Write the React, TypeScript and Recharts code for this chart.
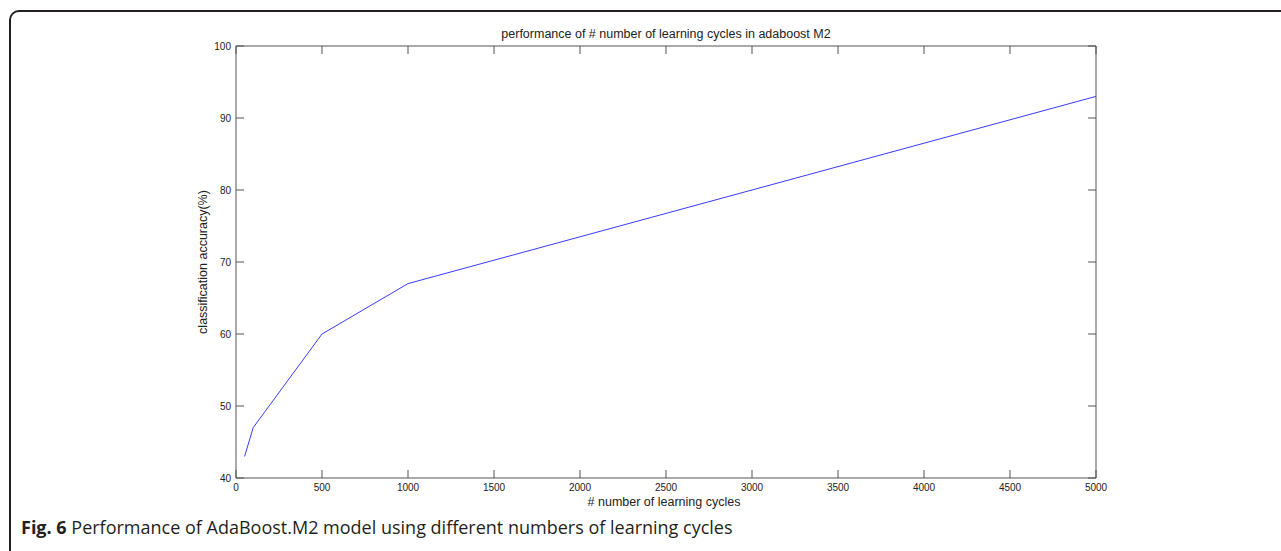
import React from 'react';
import { LineChart, Line, XAxis, YAxis } from 'recharts';

// learning cycles vs accuracy
const cycles = [50, 100, 500, 1000, 5000];
const accuracy = [43, 47, 60, 67, 93];
const xTicks = [0, 500, 1000, 1500, 2000, 2500, 3000, 3500, 4000, 4500, 5000];
const yTicks = [40, 50, 60, 70, 80, 90, 100];

const W = 1281;
const H = 551;
const axisColor = '#555555';
const matFont = '"Liberation Sans", Arial, sans-serif';

const data = cycles.map((c, i) => ({ x: c, acc: accuracy[i] }));

function BottomTick(props: any) {
    const { x, y, payload } = props;
    return (
        <g>
            <line x1={x} x2={x} y1={y} y2={y - 8} stroke={axisColor} />
            <text x={x} y={y + 13} textAnchor="middle" fontSize={10} fontFamily={matFont} fill="#222">
                {payload.value}
            </text>
        </g>
    );
}

function TopTick(props: any) {
    const { x, y } = props;
    return <line x1={x} x2={x} y1={y} y2={y + 8} stroke={axisColor} />;
}

function LeftTick(props: any) {
    const { x, y, payload } = props;
    return (
        <g>
            <line x1={x} x2={x + 8} y1={y} y2={y} stroke={axisColor} />
            <text x={x - 5} y={y + 4} textAnchor="end" fontSize={10} fontFamily={matFont} fill="#222">
                {payload.value}
            </text>
        </g>
    );
}

function RightTick(props: any) {
    const { x, y } = props;
    return <line x1={x} x2={x - 8} y1={y} y2={y} stroke={axisColor} />;
}

const labelStyle: React.CSSProperties = {
    position: 'absolute',
    whiteSpace: 'nowrap',
    fontFamily: matFont,
    fontSize: 12.5,
    color: '#222',
    lineHeight: '13px',
};

export default function App() {
    return (
        <div style={{ position: 'absolute', left: 0, top: 0, width: W, height: H, overflow: 'hidden', background: '#fff' }}>
            <div
                style={{
                    position: 'absolute',
                    left: 9,
                    top: 10,
                    width: W - 9,
                    height: H - 10,
                    boxSizing: 'border-box',
                    borderTop: '2px solid #231f20',
                    borderLeft: '2px solid #231f20',
                    borderTopLeftRadius: 10,
                }}
            />
            <div style={{ position: 'absolute', left: 0, top: 0 }}>
                <LineChart width={W} height={H} data={data} margin={{ top: 45, right: 184, bottom: 43, left: 176 }}>
                    <XAxis
                        dataKey="x"
                        type="number"
                        domain={[0, 5000]}
                        ticks={xTicks}
                        height={30}
                        tickSize={0}
                        tickMargin={0}
                        tick={<BottomTick />}
                        tickLine={false}
                        stroke={axisColor}
                    />
                    <XAxis
                        xAxisId="top"
                        orientation="top"
                        dataKey="x"
                        type="number"
                        domain={[0, 5000]}
                        ticks={xTicks}
                        height={1}
                        tickSize={0}
                        tickMargin={0}
                        tick={<TopTick />}
                        tickLine={false}
                        stroke={axisColor}
                    />
                    <YAxis
                        type="number"
                        domain={[40, 100]}
                        ticks={yTicks}
                        width={60}
                        tickSize={0}
                        tickMargin={0}
                        tick={<LeftTick />}
                        tickLine={false}
                        stroke={axisColor}
                    />
                    <YAxis
                        yAxisId="right"
                        orientation="right"
                        type="number"
                        domain={[40, 100]}
                        ticks={yTicks}
                        width={1}
                        tickSize={0}
                        tickMargin={0}
                        tick={<RightTick />}
                        tickLine={false}
                        stroke={axisColor}
                    />
                    {/* invisible copy so the box axes (top/right) get a scale */}
                    <Line
                        xAxisId="top"
                        yAxisId="right"
                        type="linear"
                        dataKey="acc"
                        stroke="none"
                        dot={false}
                        activeDot={false}
                        legendType="none"
                        isAnimationActive={false}
                    />
                    <Line
                        type="linear"
                        dataKey="acc"
                        stroke="#3a3aff"
                        strokeWidth={1}
                        dot={false}
                        isAnimationActive={false}
                    />
                </LineChart>
            </div>
            <div style={{ ...labelStyle, left: 666, top: 28, transform: 'translateX(-50%)' }}>
                performance of # number of learning cycles in adaboost M2
            </div>
            <div style={{ ...labelStyle, left: 664, top: 496, transform: 'translateX(-50%)' }}>
                # number of learning cycles
            </div>
            <div style={{ ...labelStyle, left: 203, top: 262, transform: 'translate(-50%, -50%) rotate(-90deg)' }}>
                classification accuracy(%)
            </div>
            <div style={{ position: 'absolute', left: 21, top: 518, whiteSpace: 'nowrap', fontFamily: '"Open Sans", sans-serif', fontSize: 18, color: '#231f20', lineHeight: '18px' }}>
                <b>Fig. 6</b> Performance of AdaBoost.M2 model using different numbers of learning cycles
            </div>
        </div>
    );
}
